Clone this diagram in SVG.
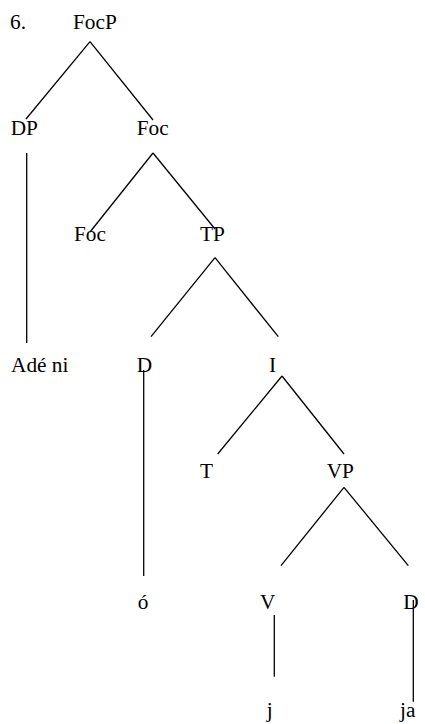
<svg xmlns="http://www.w3.org/2000/svg" width="425" height="724" viewBox="0 0 425 724">
<style>
.c line{stroke:#000;stroke-width:1.3;fill:none}
</style>
<rect width="425" height="724" fill="#fff"/>
<g class="c" id="connectors">
<line x1="90" y1="41.7" x2="26" y2="119"/>
<line x1="90" y1="41.7" x2="153" y2="120"/>
<line x1="26.7" y1="153" x2="26.7" y2="343"/>
<line x1="153" y1="153" x2="90" y2="232"/>
<line x1="153" y1="153" x2="215" y2="229"/>
<line x1="215" y1="257.7" x2="151" y2="336.7"/>
<line x1="215" y1="257.7" x2="278.3" y2="336.7"/>
<line x1="143.7" y1="370" x2="143.7" y2="576"/>
<line x1="282" y1="376" x2="217.7" y2="454"/>
<line x1="282" y1="376" x2="344" y2="454"/>
<line x1="344" y1="487.3" x2="281" y2="565.7"/>
<line x1="344" y1="487.3" x2="408.3" y2="565.7"/>
<line x1="274.3" y1="615" x2="274.3" y2="676.7"/>
<line x1="413.3" y1="600" x2="413.3" y2="701.7"/>
</g>
<g font-family="Liberation Serif" font-size="21.3" fill="#000">
<g id="label6"><text x="10" y="29">6.</text></g>
<g id="FocP"><text x="73" y="29">FocP</text></g>
<g id="DP"><text x="10.7" y="135">DP</text></g>
<g id="Foc1"><text x="136.7" y="135">Foc</text></g>
<g id="Foc2"><text x="74" y="241">Foc</text></g>
<g id="TP"><text x="200" y="241">TP</text></g>
<g id="Adeni"><text x="11" y="371.7">Adé ni</text></g>
<g id="D1"><text x="136.7" y="371.7">D</text></g>
<g id="I"><text x="269" y="371.7">I</text></g>
<g id="T"><text x="200" y="478">T</text></g>
<g id="VP"><text x="326.7" y="478">VP</text></g>
<g id="o"><text x="137.7" y="609.3">ó</text></g>
<g id="V"><text x="260" y="609.3">V</text></g>
<g id="D2"><text x="403.3" y="609.3">D</text></g>
<g id="j"><text x="266.7" y="716.7">j</text></g>
<g id="ja"><text x="400" y="716.7">ja</text></g>
</g>
</svg>
